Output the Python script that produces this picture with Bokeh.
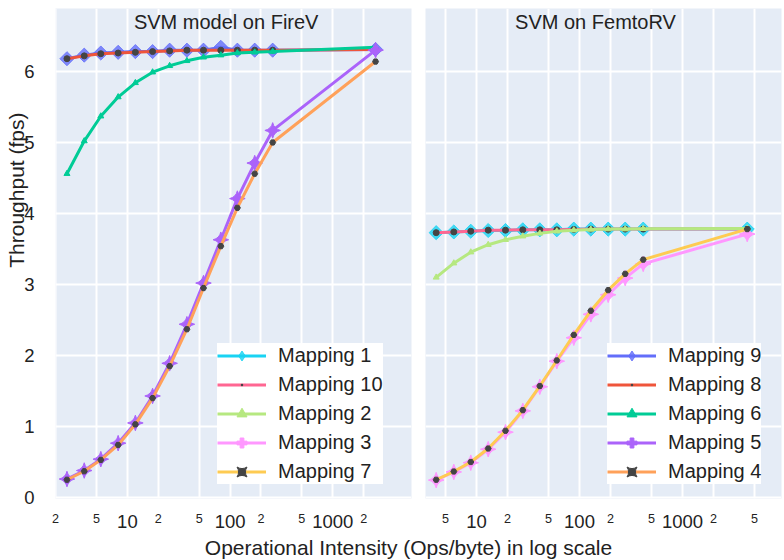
import math
from bokeh.plotting import figure
from bokeh.models import (Range1d, FixedTicker, Label, Legend, LegendItem, ColumnDataSource,
                          CustomJSTickFormatter, LogAxis, Title)
from bokeh.layouts import column, row
from bokeh.embed import file_html
from bokeh.resources import INLINE

# ---------------- data ----------------
# Left panel: SVM model on FireV
x_fire = [2.58, 3.80, 5.51, 8.13, 11.96, 17.6, 25.8, 38.0, 55.1, 81.3, 117.8, 173.8, 260, 2612]
map9 = [6.18, 6.23, 6.26, 6.27, 6.28, 6.28, 6.30, 6.30, 6.30, 6.34, 6.30, 6.30, 6.30, 6.31]
map8 = [6.18, 6.22, 6.25, 6.26, 6.27, 6.28, 6.29, 6.30, 6.30, 6.30, 6.30, 6.30, 6.30, 6.31]
map6 = [4.56, 5.02, 5.37, 5.64, 5.84, 5.99, 6.08, 6.15, 6.20, 6.23, 6.26, 6.27, 6.28, 6.34]
map5 = [0.26, 0.38, 0.54, 0.765, 1.05, 1.43, 1.89, 2.44, 3.02, 3.63, 4.21, 4.71, 5.17, 6.30]
map4 = [0.25, 0.37, 0.53, 0.74, 1.03, 1.40, 1.85, 2.37, 2.95, 3.54, 4.08, 4.56, 5.00, 6.14]

# Right panel: SVM on FemtoRV
x_femto = [4.06, 6.02, 8.80, 12.99, 19.12, 28.15, 41.17, 60.2, 88.0, 128.8, 189.9, 277.7, 415.3, 4249]
map1 = [3.73, 3.74, 3.75, 3.76, 3.76, 3.77, 3.77, 3.77, 3.78, 3.78, 3.78, 3.78, 3.78, 3.78]
map10 = [3.73, 3.74, 3.75, 3.765, 3.765, 3.77, 3.77, 3.77, 3.775, 3.78, 3.78, 3.78, 3.78, 3.78]
map2 = [3.10, 3.30, 3.455, 3.56, 3.63, 3.68, 3.72, 3.75, 3.765, 3.775, 3.78, 3.78, 3.785, 3.79]
map3 = [0.245, 0.36, 0.49, 0.68, 0.92, 1.22, 1.56, 1.92, 2.25, 2.58, 2.855, 3.09, 3.29, 3.71]
map7 = [0.25, 0.366, 0.50, 0.69, 0.94, 1.23, 1.57, 1.93, 2.29, 2.63, 2.92, 3.15, 3.35, 3.78]

panel_titles = ["SVM model on FireV", "SVM on FemtoRV"]
x_title = "Operational Intensity (Ops/byte) in log scale"
y_title = "Throughput (fps)"
y_ticks = [0, 1, 2, 3, 4, 5, 6]
x_major_ticks = [10, 100, 1000]
x_minor_fire = [2, 5, 20, 50, 200, 500, 2000]
x_minor_femto = [5, 20, 50, 200, 500, 2000, 5000]
x_range_fire = (1.995, 5847)
x_range_femto = (3.198, 9140)

FONT = "Liberation Sans"
TXT = "#222222"
BG = "#E5ECF6"
DOT = "#444444"

# trace styles: name -> (line colour, marker, marker colour, size, marker alpha, angle, legend marker)
styles = {
    "Mapping 9": ("#636efa", "square", "#636efa", 10, 0.8, math.pi / 4, "diamond"),
    "Mapping 8": ("#EF553B", "circle", DOT, 6, 1.0, 0, "dot"),
    "Mapping 6": ("#00cc96", "triangle", "#00cc96", 6, 1.0, 0, "triangle"),
    "Mapping 5": ("#ab63fa", "square_pin", "#ab63fa", 11, 1.0, math.pi / 4, "plus"),
    "Mapping 4": ("#FFA15A", "hex", DOT, 6, 1.0, 0, "square_pin"),
    "Mapping 1": ("#19d3f3", "square", "#19d3f3", 10, 0.8, math.pi / 4, "diamond"),
    "Mapping 10": ("#FF6692", "circle", DOT, 6, 1.0, 0, "dot"),
    "Mapping 2": ("#B6E880", "triangle", "#B6E880", 6, 1.0, 0, "triangle"),
    "Mapping 3": ("#FF97FF", "square_pin", "#FF97FF", 11, 1.0, math.pi / 4, "plus"),
    "Mapping 7": ("#FECB52", "hex", DOT, 6, 1.0, 0, "square_pin"),
}

y_range = Range1d(-0.014, 6.887)


def plain_axis(ax):
    ax.axis_line_color = None
    ax.major_tick_line_color = None
    ax.minor_tick_line_color = None
    ax.major_label_text_font = FONT
    ax.major_label_text_color = TXT


def make_panel(xr, minor_ticks, bl, br, with_y):
    p = figure(x_axis_type="log", x_range=Range1d(*xr), y_range=y_range,
               frame_width=356, frame_height=490, title=None,
               min_border_left=bl, min_border_right=br, min_border_top=8, min_border_bottom=35,
               toolbar_location=None, output_backend="svg",
               y_axis_location="left" if with_y else None)
    p.background_fill_color = BG
    p.border_fill_color = "white"
    p.outline_line_color = None
    # decade labels (10, 100, 1000)
    ax = p.xaxis[0]
    plain_axis(ax)
    ax.ticker = FixedTicker(ticks=x_major_ticks)
    ax.formatter = CustomJSTickFormatter(code="return String(Math.round(tick));")
    ax.major_label_text_font_size = "18.5px"
    ax.major_label_standoff = 10
    # 2 and 5 labels in a smaller font, pulled up beside the decade labels
    ax2 = LogAxis(ticker=FixedTicker(ticks=minor_ticks),
                  formatter=CustomJSTickFormatter(code="return String(Math.round(tick)).charAt(0);"))
    plain_axis(ax2)
    ax2.major_label_text_font_size = "12.6px"
    ax2.major_label_standoff = -23
    p.add_layout(ax2, "below")
    p.xgrid.ticker = FixedTicker(ticks=sorted(x_major_ticks + minor_ticks))
    p.ygrid.ticker = FixedTicker(ticks=y_ticks)
    p.grid.grid_line_color = "white"
    p.grid.grid_line_width = 2
    if with_y:
        ya = p.yaxis[0]
        plain_axis(ya)
        ya.ticker = FixedTicker(ticks=y_ticks)
        ya.major_label_text_font_size = "18.5px"
        ya.major_label_standoff = 15
    return p


p1 = make_panel(x_range_fire, x_minor_fire, 55, 7, True)
p2 = make_panel(x_range_femto, x_minor_femto, 7, 3, False)


def add_trace(p, name, xs, ys, visible=True):
    lc, mk, mc, sz, ma, ang, lmk = styles[name]
    src = ColumnDataSource(dict(x=xs, y=ys))
    if not visible:
        mk, ang = lmk, 0
    r1 = p.line("x", "y", source=src, line_color=lc, line_width=3, visible=visible)
    r2 = p.scatter("x", "y", source=src, marker=mk, size=sz, fill_color=mc, line_color=mc,
                   fill_alpha=ma, line_alpha=ma, angle=ang, visible=visible)
    return [r1, r2]


fire_series = [("Mapping 9", map9), ("Mapping 8", map8), ("Mapping 6", map6),
               ("Mapping 5", map5), ("Mapping 4", map4)]
femto_series = [("Mapping 1", map1), ("Mapping 10", map10), ("Mapping 2", map2),
                ("Mapping 3", map3), ("Mapping 7", map7)]

for name, ys in fire_series:
    add_trace(p1, name, x_fire, ys)
for name, ys in femto_series:
    add_trace(p2, name, x_femto, ys)

# legends as in the reference: the left legend lists the FemtoRV mappings and vice versa
left_items = [LegendItem(label=name, renderers=add_trace(p1, name, x_femto, ys, visible=False))
              for name, ys in femto_series]
right_items = [LegendItem(label=name, renderers=add_trace(p2, name, x_fire, ys, visible=False))
               for name, ys in fire_series]


def style_legend(items, loc):
    return Legend(items=items, location=loc, orientation="vertical",
                  label_text_font=FONT, label_text_font_size="20px", label_text_color=TXT,
                  glyph_width=49, glyph_height=25, label_height=25, spacing=4, padding=4,
                  label_standoff=12, margin=0, border_line_color=None,
                  background_fill_color="white", background_fill_alpha=1.0,
                  click_policy="none", inactive_fill_alpha=0.0)


p1.add_layout(style_legend(left_items, (162, 14)), "center")
p2.add_layout(style_legend(right_items, (182, 14)), "center")

# panel titles inside the plot area
p1.add_layout(Label(x=170.7, y=477, x_units="screen", y_units="screen", text=panel_titles[0],
                    text_align="center", text_baseline="middle", text_font=FONT,
                    text_font_size="20px", text_color=TXT))
p2.add_layout(Label(x=170, y=477, x_units="screen", y_units="screen", text=panel_titles[1],
                    text_align="center", text_baseline="middle", text_font=FONT,
                    text_font_size="20px", text_color=TXT))

# y-axis title, raised above the frame centre as in the reference
p1.add_layout(Title(text=y_title, align="right", offset=104, standoff=-12, vertical_align="bottom",
                    text_font=FONT, text_font_size="21px", text_font_style="normal",
                    text_color=TXT), "left")

# x-axis title strip (a figure title, so the text is not clipped by a frame)
p3 = figure(width=784, height=27, toolbar_location=None, output_backend="svg",
            title=x_title, x_axis_location=None, y_axis_location=None,
            min_border_left=32, min_border_right=0, min_border_top=0, min_border_bottom=0)
p3.outline_line_color = None
p3.grid.visible = False
p3.background_fill_color = "white"
p3.title.align = "center"
p3.title.standoff = 0
p3.title.text_font = FONT
p3.title.text_font_size = "21px"
p3.title.text_font_style = "normal"
p3.title.text_color = TXT

layout = column(row(p1, p2, spacing=0), p3, spacing=0)
open("out.html", "w").write(file_html(layout, INLINE))
